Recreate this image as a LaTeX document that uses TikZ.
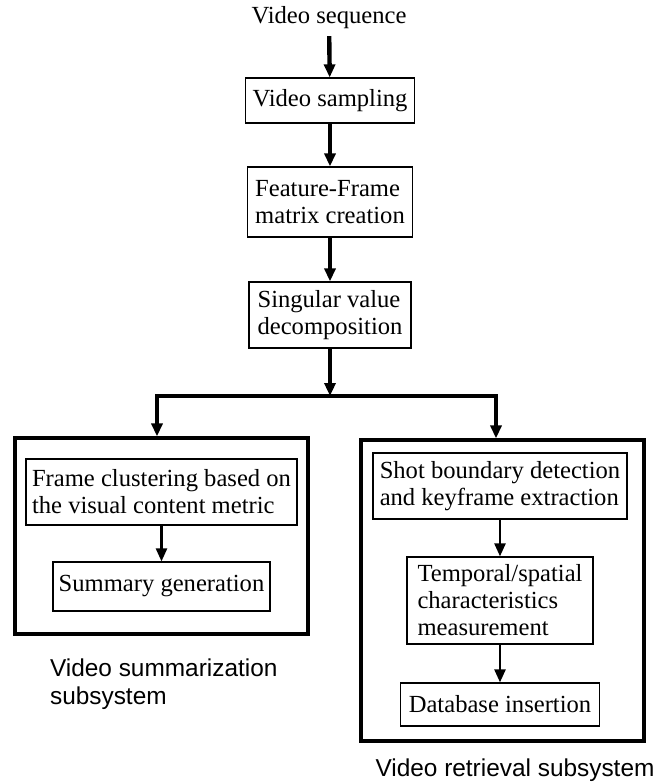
\documentclass[tikz,border=0pt]{standalone}
\usepackage{fontspec}
\setmainfont{Liberation Serif}
\setsansfont{Liberation Sans}
\usetikzlibrary{arrows.meta, positioning}

\begin{document}
\begin{tikzpicture}[x=0.5pt, y=-0.5pt, every node/.style={font=\fontsize{12.3}{13.5}\selectfont}]
        % Define block styles
        \tikzstyle{block} = [rectangle, draw, line width=0.6pt, align=left, inner sep=2pt]
        \tikzstyle{subsys} = [rectangle, draw, line width=1.6pt]
        \tikzstyle{bigarrow} = [line width=2.2pt, -{Triangle[length=6.5pt, width=5.5pt]}]
        \tikzstyle{smallarrow} = [line width=1.2pt, -{Triangle[length=6.5pt, width=5.5pt]}]
        \tikzstyle{caption} = [font=\sffamily\fontsize{12.2}{14}\selectfont, align=left]
        \useasboundingbox (0,0) rectangle (671,782);

        % Main chain
        \node (seq) at (329,18) {Video sequence};
        \node (samp) [block, minimum width=84.5pt, minimum height=22.5pt] at (330,100.5) {Video sampling};
        \node (feat) [block, minimum width=82.5pt, minimum height=35pt] at (330,202) {Feature-Frame\\matrix creation};
        \node (svd) [block, minimum width=81pt, minimum height=33pt] at (330,315) {Singular value\\decomposition};
        \coordinate (split) at (330,396);

        % Summarization subsystem
        \node (sumsys) [subsys, minimum width=146.5pt, minimum height=98pt] at (161.5,536) {};
        \node (clus) [block, minimum width=135.5pt, minimum height=33pt] at (161.5,492) {Frame clustering based on\\the visual content metric};
        \node (summ) [block, minimum width=108.5pt, minimum height=24.5pt] at (161.5,586.5) {Summary generation};
        \node (sumlabel) [caption, anchor=west] at (43,684) {Video summarization\\subsystem};

        % Retrieval subsystem
        \node (retsys) [subsys, minimum width=141.5pt, minimum height=150.5pt] at (502.5,590.5) {};
        \node (shot) [block, minimum width=127pt, minimum height=33pt] at (500,486) {Shot boundary detection\\and keyframe extraction};
        \node (temp) [block, minimum width=93pt, minimum height=43.5pt] at (500,600.5) {Temporal/spatial\\characteristics\\measurement};
        \node (db) [block, minimum width=99.5pt, minimum height=21.5pt] at (500,704.5) {Database insertion};
        \node (retlabel) [caption] at (515,770) {Video retrieval subsystem};

        % Arrows
        \draw [bigarrow] (seq) -- (samp);
        \draw [bigarrow] (samp) -- (feat);
        \draw [bigarrow] (feat) -- (svd);
        \draw [bigarrow] (svd) -- (split);
        \draw [bigarrow] (split) -| ([xshift=-2.25pt]sumsys.north);
        \draw [bigarrow] (split) -| ([xshift=-3.25pt]retsys.north);
        \draw [smallarrow] (clus) -- (summ);
        \draw [smallarrow] (shot) -- (temp);
        \draw [smallarrow] (temp) -- (db);
\end{tikzpicture}
\end{document}
